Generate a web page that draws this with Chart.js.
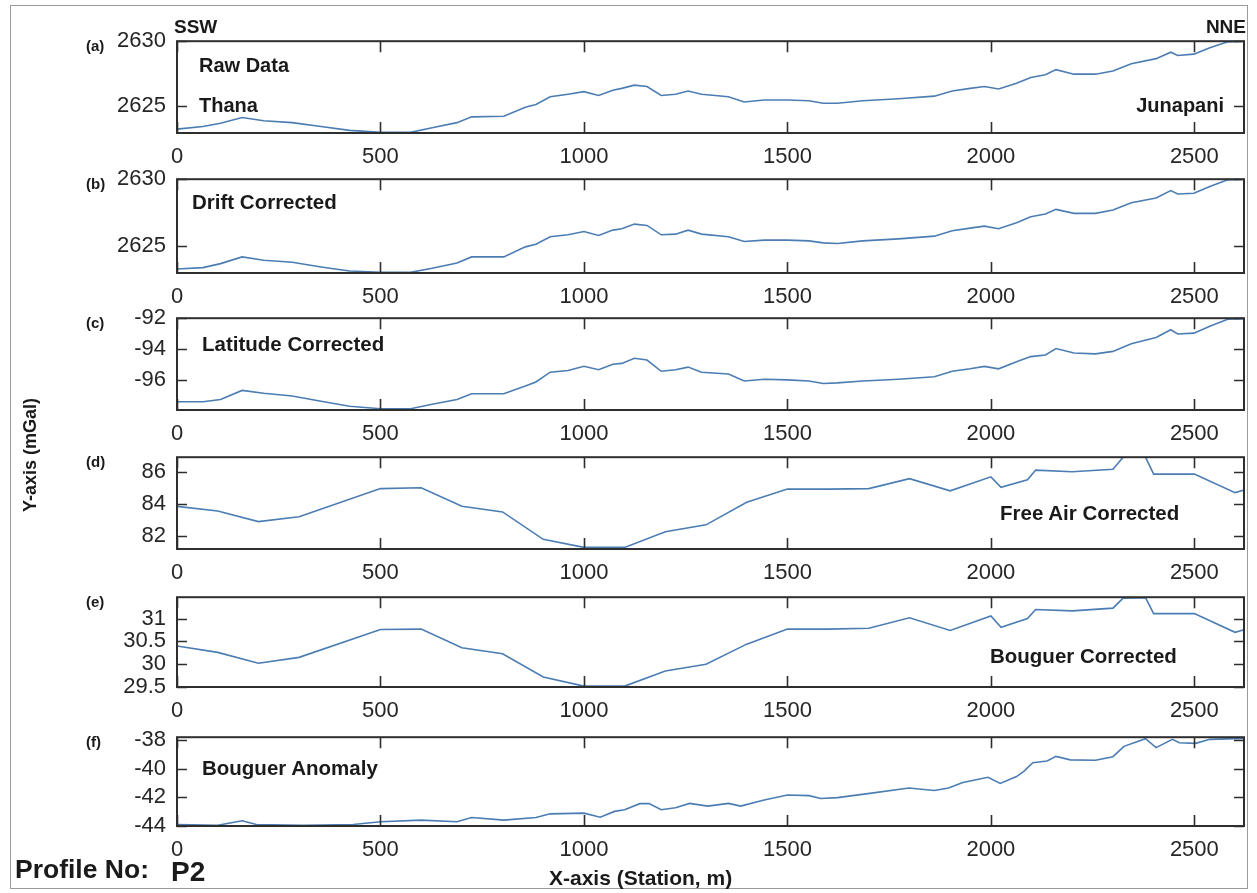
<!DOCTYPE html>
<html>
<head>
<meta charset="utf-8">
<script src="https://cdn.jsdelivr.net/npm/chart.js@4.4.1/dist/chart.umd.min.js"></script>
<style>
  html, body { margin: 0; padding: 0; background: #fff; }
  #fig { position: relative; width: 1257px; height: 893px; overflow: hidden; background: #fff; font-family: "Liberation Sans", Arial, sans-serif; }
  #frame { position: absolute; left: 10px; top: 5px; width: 1238px; height: 884px; border: 1px solid #9a9a9a; box-sizing: border-box; }
  canvas.panel { position: absolute; left: 0; }
  .t { position: absolute; white-space: nowrap; color: #1a1a1a; font-weight: bold; transform: translateY(-50%); line-height: 1; }
</style>
</head>
<body>
<div id="fig">
  <div id="frame"></div>
</div>
<script>
// ---------------- DATA ----------------
const xTicks = [0, 500, 1000, 1500, 2000, 2500];

const stationsABC = [0, 64, 107, 160, 213, 283, 354, 424, 500, 574, 627, 688, 724, 803, 856, 882, 917, 961, 1000, 1036,
  1071, 1093, 1124, 1155, 1190, 1225, 1256, 1289, 1355, 1394, 1443, 1500, 1553, 1588, 1623, 1685, 1773, 1861, 1905, 1949,
  1984, 2019, 2063, 2098, 2134, 2160, 2204, 2257, 2300, 2345, 2406, 2442, 2459, 2499, 2538, 2582, 2622];

const rawData = [2623.2, 2623.4, 2623.65, 2624.1, 2623.85, 2623.7, 2623.4, 2623.1, 2622.95, 2622.95, 2623.3, 2623.7, 2624.15, 2624.2, 2624.9, 2625.1, 2625.7, 2625.9, 2626.1, 2625.8,
  2626.2, 2626.35, 2626.6, 2626.5, 2625.8, 2625.9, 2626.15, 2625.9, 2625.7, 2625.3, 2625.45, 2625.45, 2625.4, 2625.2, 2625.2, 2625.4, 2625.55, 2625.75, 2626.15, 2626.35,
  2626.5, 2626.3, 2626.75, 2627.2, 2627.4, 2627.8, 2627.45, 2627.45, 2627.7, 2628.25, 2628.65, 2629.15, 2628.9, 2629.0, 2629.5, 2629.95, 2630.0];

const driftCorrected = [2623.3, 2623.4, 2623.7, 2624.2, 2623.95, 2623.8, 2623.45, 2623.15, 2623.05, 2623.05, 2623.35, 2623.75, 2624.2, 2624.2, 2624.95, 2625.15, 2625.7, 2625.85, 2626.1, 2625.8,
  2626.2, 2626.3, 2626.65, 2626.55, 2625.85, 2625.9, 2626.2, 2625.9, 2625.7, 2625.35, 2625.45, 2625.45, 2625.4, 2625.25, 2625.2, 2625.4, 2625.55, 2625.75, 2626.15, 2626.35,
  2626.5, 2626.3, 2626.75, 2627.2, 2627.4, 2627.75, 2627.45, 2627.45, 2627.7, 2628.25, 2628.6, 2629.15, 2628.9, 2628.95, 2629.45, 2629.95, 2630.0];

const latitudeCorrected = [-97.42, -97.42, -97.27, -96.68, -96.86, -97.04, -97.38, -97.71, -97.87, -97.87, -97.58, -97.27, -96.9, -96.9, -96.4, -96.13, -95.5, -95.39, -95.12, -95.34,
  -94.98, -94.93, -94.6, -94.71, -95.44, -95.34, -95.17, -95.5, -95.62, -96.07, -95.96, -96.0, -96.07, -96.23, -96.19, -96.07, -95.96, -95.8, -95.44, -95.28,
  -95.12, -95.28, -94.83, -94.49, -94.38, -93.97, -94.26, -94.31, -94.15, -93.65, -93.25, -92.75, -93.02, -92.97, -92.52, -92.07, -92.03];

const stationsDE = [0, 100, 200, 300, 500, 600, 700, 800, 900, 1000, 1100, 1200, 1300, 1400, 1500, 1600, 1700, 1800, 1900, 2000,
  2025, 2090, 2110, 2200, 2300, 2325, 2380, 2400, 2500, 2600, 2620];

const freeAirCorrected = [83.85, 83.56, 82.9, 83.2, 84.95, 85.0, 83.85, 83.5, 81.8, 81.3, 81.3, 82.27, 82.7, 84.1, 84.92, 84.92, 84.95, 85.57, 84.81, 85.68,
  85.03, 85.5, 86.1, 86.0, 86.15, 86.9, 86.9, 85.85, 85.85, 84.7, 84.85];

const bouguerCorrected = [30.40, 30.26, 30.02, 30.15, 30.76, 30.77, 30.36, 30.23, 29.72, 29.52, 29.52, 29.85, 30.0, 30.44, 30.77, 30.77, 30.79, 31.02, 30.74, 31.06,
  30.81, 31.0, 31.2, 31.17, 31.23, 31.45, 31.46, 31.11, 31.11, 30.7, 30.75];

const stationsF = [0, 100, 160, 195, 310, 433, 500, 600, 688, 724, 803, 882, 917, 1000, 1040, 1075, 1100, 1137, 1160, 1190,
  1225, 1260, 1304, 1355, 1385, 1443, 1500, 1553, 1582, 1623, 1693, 1799, 1861, 1896, 1931, 1993, 2023, 2063, 2081, 2103,
  2138, 2160, 2195, 2257, 2300, 2327, 2380, 2406, 2446, 2463, 2503, 2538, 2622];

const bouguerAnomaly = [-43.9, -43.95, -43.63, -43.9, -43.95, -43.9, -43.7, -43.59, -43.7, -43.41, -43.59, -43.41, -43.15, -43.1, -43.39, -42.98, -42.86, -42.44, -42.44, -42.86,
  -42.73, -42.42, -42.61, -42.42, -42.61, -42.18, -41.84, -41.88, -42.08, -42.02, -41.76, -41.35, -41.52, -41.35, -40.96, -40.6, -41.03, -40.55, -40.18, -39.58,
  -39.46, -39.14, -39.38, -39.41, -39.16, -38.44, -37.9, -38.53, -37.95, -38.19, -38.23, -37.95, -37.88];

const yTicksA = [2625, 2630];
const yTicksB = [2625, 2630];
const yTicksC = [-96, -94, -92];
const yTicksD = [82, 84, 86];
const yTicksE = [29.5, 30, 30.5, 31];
const yTicksF = [-44, -42, -40, -38];

const panelLetters = ['(a)', '(b)', '(c)', '(d)', '(e)', '(f)'];

// ---------------- LAYOUT ----------------
const PLOT_LEFT = 177, PLOT_RIGHT = 1244, FIG_W = 1257;
const PAD_TOP = 22, XAXIS_H = 44;
const panels = [
  { x: stationsABC, y: rawData,           top: 39,  bottom: 133, min: 2622.9, max: 2630,  ticks: yTicksA },
  { x: stationsABC, y: driftCorrected,    top: 177, bottom: 273, min: 2623.0, max: 2630,  ticks: yTicksB },
  { x: stationsABC, y: latitudeCorrected, top: 316, bottom: 410, min: -97.95, max: -92,   ticks: yTicksC },
  { x: stationsDE,  y: freeAirCorrected,  top: 455, bottom: 549, min: 81.2,   max: 86.9,  ticks: yTicksD },
  { x: stationsDE,  y: bouguerCorrected,  top: 595, bottom: 687, min: 29.5,   max: 31.47, ticks: yTicksE },
  { x: stationsF,   y: bouguerAnomaly,    top: 735, bottom: 826, min: -44,    max: -37.8, ticks: yTicksF }
];

const LINE_COLOR = '#4b7db3';
const AXIS_COLOR = '#2e2e2e';
const TICK_FONT = { family: '"Liberation Sans", Arial, sans-serif', size: 22 };

const frameTicks = {
  id: 'frameTicks',
  afterDatasetsDraw(chart) {
    const { ctx, chartArea: a, scales } = chart;
    const xs = scales.x, ys = scales.y;
    ctx.save();
    ctx.strokeStyle = AXIS_COLOR;
    ctx.lineWidth = 1.6;
    ctx.beginPath();
    xs.ticks.forEach(t => {
      const px = Math.round(xs.getPixelForValue(t.value)) + 0.5;
      ctx.moveTo(px, a.bottom); ctx.lineTo(px, a.bottom - 11);
      ctx.moveTo(px, a.top); ctx.lineTo(px, a.top + 11);
    });
    ys.ticks.forEach(t => {
      const py = Math.round(ys.getPixelForValue(t.value)) + 0.5;
      ctx.moveTo(a.left, py); ctx.lineTo(a.left + 10, py);
      ctx.moveTo(a.right, py); ctx.lineTo(a.right - 10, py);
    });
    ctx.stroke();
    ctx.lineWidth = 2;
    ctx.strokeRect(a.left, a.top, a.right - a.left, a.bottom - a.top);
    ctx.restore();
  }
};

const fig = document.getElementById('fig');

panels.forEach((p, i) => {
  const plotH = p.bottom - p.top;
  const cv = document.createElement('canvas');
  cv.className = 'panel';
  const h = PAD_TOP + plotH + XAXIS_H;
  cv.width = FIG_W; cv.height = h;
  cv.style.width = FIG_W + 'px'; cv.style.height = h + 'px';
  cv.style.top = (p.top - PAD_TOP) + 'px';
  fig.appendChild(cv);

  new Chart(cv, {
    type: 'line',
    data: {
      datasets: [{
        data: p.x.map((xv, k) => ({ x: xv, y: p.y[k] })),
        borderColor: LINE_COLOR,
        borderWidth: 1.6,
        pointRadius: 0,
        tension: 0,
        fill: false
      }]
    },
    options: {
      responsive: false,
      animation: false,
      devicePixelRatio: 1,
      layout: { padding: { top: PAD_TOP, right: FIG_W - PLOT_RIGHT, left: 0, bottom: 0 } },
      plugins: { legend: { display: false }, tooltip: { enabled: false } },
      scales: {
        x: {
          type: 'linear', min: 0, max: 2622,
          grid: { display: false, drawTicks: false },
          border: { display: false },
          afterBuildTicks: s => { s.ticks = xTicks.map(v => ({ value: v })); },
          afterFit: s => { s.height = XAXIS_H; },
          ticks: { color: '#262626', font: TICK_FONT, padding: 11, maxRotation: 0, autoSkip: false, callback: v => String(v) }
        },
        y: {
          type: 'linear', min: p.min, max: p.max,
          grid: { display: false, drawTicks: false },
          border: { display: false },
          afterBuildTicks: s => { s.ticks = p.ticks.map(v => ({ value: v })); },
          afterFit: s => { s.width = PLOT_LEFT; },
          ticks: { color: '#262626', font: TICK_FONT, padding: 11, autoSkip: false, callback: v => String(v) }
        }
      }
    },
    plugins: [frameTicks]
  });

  const lab = document.createElement('div');
  lab.className = 't';
  lab.textContent = panelLetters[i];
  lab.style.left = '86px';
  lab.style.top = (p.top + 6) + 'px';
  lab.style.fontSize = '15px';
  fig.appendChild(lab);
});

function addText(txt, left, cy, size, extra) {
  const d = document.createElement('div');
  d.className = 't';
  d.textContent = txt;
  d.style.left = left + 'px';
  d.style.top = cy + 'px';
  d.style.fontSize = size + 'px';
  if (extra) Object.assign(d.style, extra);
  fig.appendChild(d);
  return d;
}

addText('SSW', 174, 26, 19);
addText('NNE', 0, 26, 19, { left: 'auto', right: (FIG_W - 1246) + 'px' });
addText('Raw Data', 199, 65, 20);
addText('Thana', 199, 105, 20);
addText('Junapani', 0, 105, 20, { left: 'auto', right: (FIG_W - 1224) + 'px' });
addText('Drift Corrected', 192, 202, 20.5);
addText('Latitude Corrected', 202, 344, 20.5);
addText('Free Air Corrected', 1000, 513, 20.5);
addText('Bouguer Corrected', 990, 656, 20.5);
addText('Bouguer Anomaly', 202, 768, 20.5);
addText('X-axis (Station, m)', 549, 877, 21);
addText('Profile No:', 15, 869, 26.5);
addText('P2', 171, 872, 28);
addText('Y-axis (mGal)', 30, 455, 18, { left: '30px', transform: 'translate(-50%, -50%) rotate(-90deg)' });
</script>
</body>
</html>
